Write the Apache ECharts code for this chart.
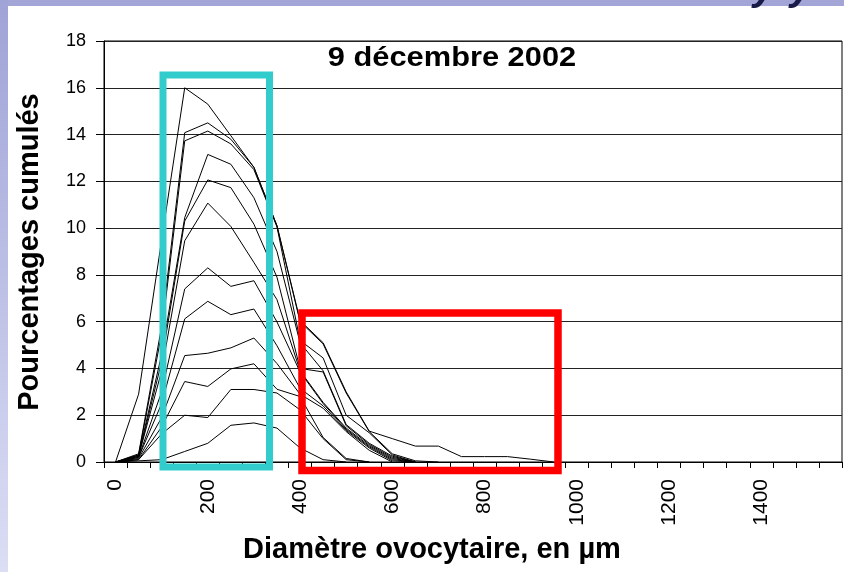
<!DOCTYPE html>
<html>
<head>
<meta charset="utf-8">
<script src="https://cdn.jsdelivr.net/npm/echarts@6/dist/echarts.min.js"></script>
<style>
  html, body { margin: 0; padding: 0; background: #ffffff; }
  #chart { width: 844px; height: 572px; }
</style>
</head>
<body>
<div id="chart"></div>
<script>
// Oocyte diameter classes (µm), one category every 50 µm
const diameters = [];
for (let d = 0; d <= 1550; d += 50) diameters.push(String(d));

// Cumulative percentages per diameter class, one curve per added sample
const curve01 = [0, 2.9, 9.5, 16.0, 15.3, 13.95, 12.6, 10.1, 6.05, 5.1, 3.0, 1.32, 1.0, 0.68, 0.68, 0.23, 0.23, 0.23, 0.12, 0];
const curve02 = [0, 0.35, 5.8, 14.08, 14.5, 13.8, 12.6, 10.1, 6.0, 5.05, 2.95, 1.3, 0.35, 0.05, 0];
const curve03 = [0, 0.3, 5.5, 13.73, 14.15, 13.6, 12.5, 10.05, 5.2, 4.45, 2.0, 1.25, 0.3, 0];
const curve04 = [0, 0.3, 4.6, 10.45, 13.15, 12.73, 11.3, 9.0, 5.1, 3.9, 1.6, 0.8, 0.25, 0];
const curve05 = [0, 0.25, 4.3, 10.3, 12.06, 11.73, 10.17, 7.9, 4.0, 3.85, 1.55, 0.75, 0.2, 0];
const curve06 = [0, 0.25, 3.9, 9.46, 11.07, 10.07, 8.53, 6.94, 3.9, 2.55, 1.45, 0.7, 0.15, 0];
const curve07 = [0, 0.2, 3.0, 7.4, 8.3, 7.51, 7.75, 5.99, 3.85, 2.5, 1.4, 0.65, 0.1, 0];
const curve08 = [0, 0.2, 2.5, 6.12, 6.87, 6.3, 6.54, 4.97, 3.15, 2.4, 1.35, 0.6, 0.05, 0];
const curve09 = [0, 0.15, 1.9, 4.55, 4.65, 4.88, 5.3, 4.21, 2.9, 2.3, 1.3, 0.5, 0];
const curve10 = [0, 0.1, 1.5, 3.44, 3.23, 3.98, 4.2, 3.11, 2.8, 1.05, 0.15, 0];
const curve11 = [0, 0.1, 1.2, 2.0, 1.9, 3.1, 3.1, 2.95, 2.23, 1.0, 0.1, 0];
const curve12 = [0, 0.05, 0.1, 0.45, 0.8, 1.57, 1.67, 1.45, 0.6, 0.1, 0];

const curves = [curve01, curve02, curve03, curve04, curve05, curve06,
                curve07, curve08, curve09, curve10, curve11, curve12];

const yTicks = { min: 0, max: 18, step: 2 };

const titleText = '9 décembre 2002';
const xTitle = 'Diamètre ovocytaire, en µm';
const yTitle = 'Pourcentages cumulés';

const FONT = '"Liberation Sans", Arial, sans-serif';

const chart = echarts.init(document.getElementById('chart'), null, { renderer: 'canvas' });

chart.setOption({
  animation: false,
  backgroundColor: '#ffffff',
  grid: {
    left: 104, top: 41, right: 2, bottom: 110,
    show: true, borderColor: '#000', borderWidth: 1, backgroundColor: '#ffffff'
  },
  xAxis: {
    type: 'category',
    data: diameters,
    boundaryGap: true,
    axisLine: { lineStyle: { color: '#000', width: 1 } },
    axisTick: { show: true, interval: 0, length: 6, lineStyle: { color: '#000' } },
    axisLabel: {
      interval: 3, rotate: 90, margin: 17,
      fontFamily: FONT, fontSize: 21, color: '#000'
    },
    splitLine: { show: false }
  },
  yAxis: {
    type: 'value',
    min: yTicks.min, max: yTicks.max, interval: yTicks.step,
    axisLine: { show: true, lineStyle: { color: '#000', width: 1 } },
    axisTick: { show: true, length: 8, lineStyle: { color: '#000' } },
    axisLabel: { margin: 18, fontFamily: FONT, fontSize: 18, color: '#000' },
    splitLine: { lineStyle: { color: '#222', width: 1 } }
  },
  series: curves.map(c => ({
    type: 'line',
    data: c,
    symbol: 'none',
    silent: true,
    lineStyle: { color: '#000', width: 1 },
    z: 3
  })),
  graphic: [
    // lavender frame strips
    { type: 'rect', shape: { x: 0, y: 0, width: 844, height: 6 }, style: { fill: '#a2a5d6' }, z: 0 },
    { type: 'rect', shape: { x: 0, y: 0, width: 8, height: 572 },
      style: { fill: new echarts.graphic.LinearGradient(0, 0, 0, 1, [
        { offset: 0, color: '#9fa3d6' }, { offset: 1, color: '#dcdef5' }]) }, z: 0 },
    // slide heading running off the top edge (only descenders remain)
    { type: 'text', x: 753, y: 9, z: 1,
      style: { text: 'y', font: 'italic bold 40px ' + FONT, fill: '#1a1a48',
               textAlign: 'left', textVerticalAlign: 'bottom' } },
    { type: 'text', x: 790, y: 9, z: 1,
      style: { text: 'y', font: 'italic bold 40px ' + FONT, fill: '#1a1a48',
               textAlign: 'left', textVerticalAlign: 'bottom' } },
    // highlight boxes
    { type: 'rect', shape: { x: 163, y: 75, width: 106.5, height: 392 },
      style: { fill: 'none', stroke: '#33cccc', lineWidth: 7 }, z: 10 },
    { type: 'rect', shape: { x: 302, y: 313, width: 256, height: 157.5 },
      style: { fill: 'none', stroke: '#ff0000', lineWidth: 7.5 }, z: 10 },
    // titles
    { type: 'text', x: 452, y: 58, scaleX: 1.1, z: 11,
      style: { text: titleText, font: 'bold 28px ' + FONT, fill: '#000',
               textAlign: 'center', textVerticalAlign: 'middle' } },
    { type: 'text', x: 432, y: 550, z: 11,
      style: { text: xTitle, font: 'bold 29px ' + FONT, fill: '#000',
               textAlign: 'center', textVerticalAlign: 'middle' } },
    { type: 'text', x: 30, y: 252, rotation: Math.PI / 2, z: 11,
      style: { text: yTitle, font: 'bold 29px ' + FONT, fill: '#000',
               textAlign: 'center', textVerticalAlign: 'middle' } }
  ]
});
</script>
</body>
</html>
